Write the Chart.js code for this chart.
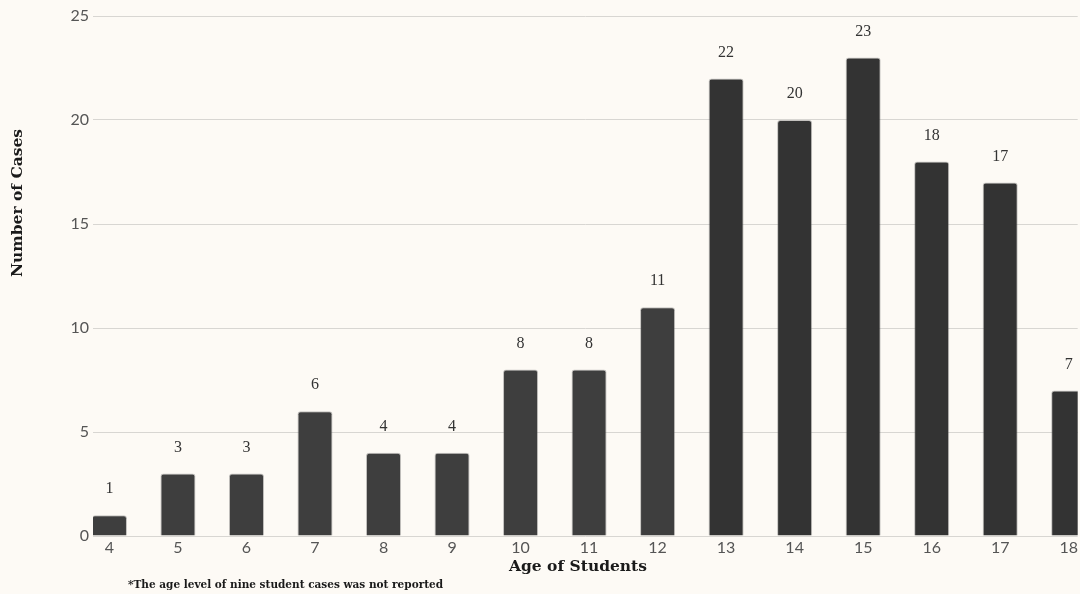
<!DOCTYPE html>
<html>
<head>
<meta charset="utf-8">
<title>Age of Students</title>
<script src="https://cdn.jsdelivr.net/npm/chart.js@4.4.1/dist/chart.umd.min.js"></script>
<style>
  html, body { margin: 0; padding: 0; background: #fdfaf5; overflow: hidden; }
  #wrap { width: 1080px; height: 594px; position: relative; }
  canvas { display: block; }
</style>
</head>
<body>
<div id="wrap"><canvas id="chart" width="1080" height="594"></canvas></div>
<script>
// Reported cases by student age
const ages = [4, 5, 6, 7, 8, 9, 10, 11, 12, 13, 14, 15, 16, 17, 18];
const cases = [1, 3, 3, 6, 4, 4, 8, 8, 11, 22, 20, 23, 18, 17, 7];
const yTicks = [0, 5, 10, 15, 20, 25];

const xTitle = 'Age of Students';
const yTitle = 'Number of Cases';
const footnote = '*The age level of nine student cases was not reported';

const labelSerif = '"Liberation Serif", serif';
const titleSerif = '"DejaVu Serif", serif';

const barColors = cases.map((v, i) => i < 9 ? '#3e3e3e' : '#333333');

const overlay = {
  id: 'overlay',
  afterDatasetsDraw(chart) {
    const { ctx } = chart;
    const meta = chart.getDatasetMeta(0);
    ctx.save();
    // value labels above bars
    ctx.fillStyle = '#333';
    ctx.font = '16px ' + labelSerif;
    ctx.textAlign = 'center';
    ctx.textBaseline = 'bottom';
    meta.data.forEach((bar, i) => {
      ctx.fillText(String(cases[i]), bar.x, bar.y - 18);
    });
    ctx.restore();
  },
  afterDraw(chart) {
    const { ctx } = chart;
    ctx.save();
    ctx.fillStyle = '#1a1a1a';
    // x axis title
    ctx.font = 'bold 15.5px ' + titleSerif;
    ctx.textAlign = 'center';
    ctx.textBaseline = 'middle';
    ctx.fillText(xTitle, 578, 567);
    // y axis title
    ctx.save();
    ctx.translate(18, 203);
    ctx.rotate(-Math.PI / 2);
    ctx.font = 'bold 15.5px ' + titleSerif;
    ctx.fillText(yTitle, 0, 0);
    ctx.restore();
    // footnote
    ctx.font = 'bold 10.5px ' + titleSerif;
    ctx.textAlign = 'left';
    ctx.fillText(footnote, 128, 585);
    ctx.restore();
  }
};

new Chart(document.getElementById('chart'), {
  type: 'bar',
  data: {
    datasets: [{
      data: ages.map((a, i) => ({ x: a, y: cases[i] })),
      backgroundColor: barColors,
      borderColor: 'rgba(110,110,110,0.4)',
      borderWidth: 1,
      borderRadius: 3,
      borderSkipped: 'bottom',
      barPercentage: 0.64,
      categoryPercentage: 0.8
    }]
  },
  options: {
    responsive: false,
    animation: false,
    layout: { padding: { top: 16, right: 0, bottom: 0, left: 0 } },
    plugins: { legend: { display: false }, tooltip: { enabled: false } },
    scales: {
      x: {
        type: 'linear',
        offset: false,
        min: 3.76,
        max: 18.131,
        grid: { display: false, drawTicks: false, offset: false },
        border: { display: false },
        afterBuildTicks: (scale) => {
          scale.ticks = ages.map(a => ({ value: a }));
        },
        afterFit: (scale) => { scale.height = 58; },
        ticks: {
          autoSkip: false,
          maxRotation: 0,
          padding: 2,
          color: '#555',
          font: { family: 'Lato', size: 16 },
          callback: (v) => String(v)
        }
      },
      y: {
        min: 0,
        max: 25,
        afterBuildTicks: (scale) => {
          scale.ticks = yTicks.map(v => ({ value: v }));
        },
        afterFit: (scale) => { scale.width = 93; },
        grid: { color: '#d8d6d2', lineWidth: 1, drawTicks: false },
        border: { display: false },
        ticks: {
          padding: 4,
          color: '#555',
          font: { family: 'Lato', size: 16 }
        }
      }
    }
  },
  plugins: [overlay]
});
</script>
</body>
</html>
